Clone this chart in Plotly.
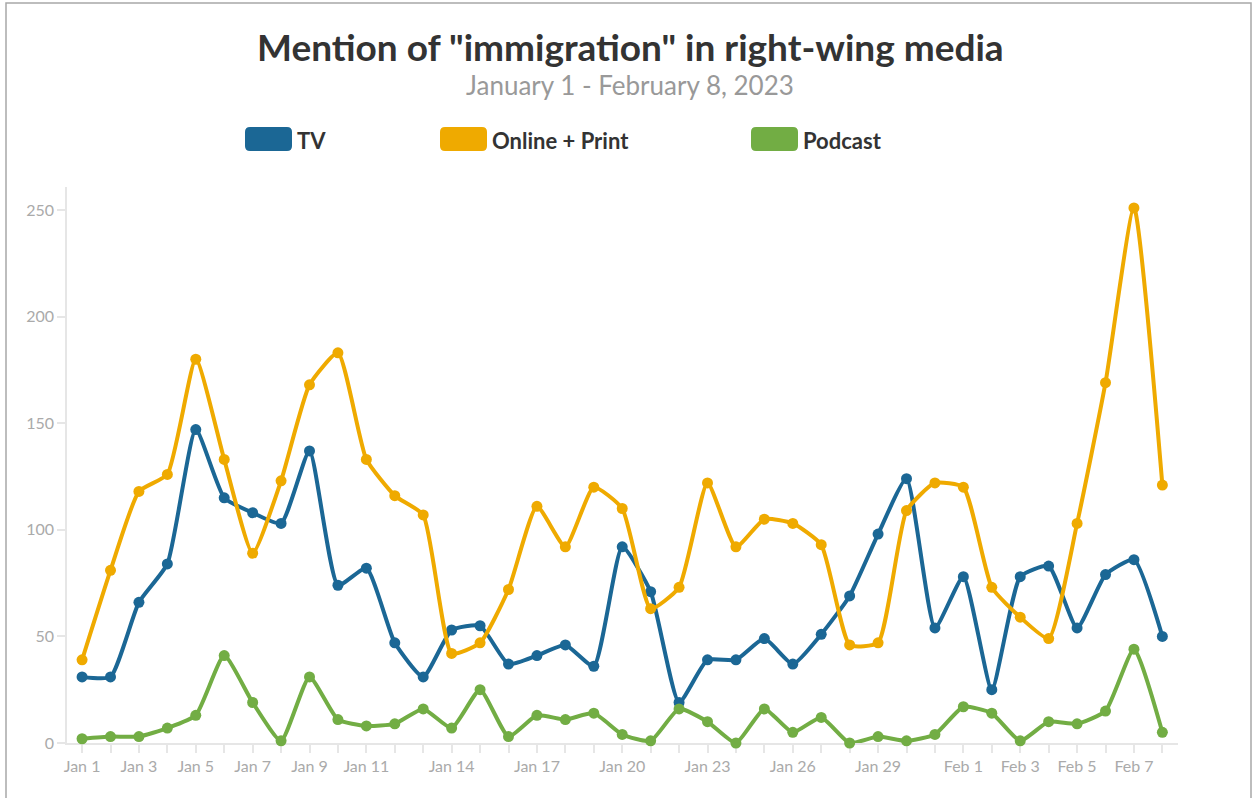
import plotly.graph_objects as go

dates = ["Jan 1", "Jan 2", "Jan 3", "Jan 4", "Jan 5", "Jan 6", "Jan 7", "Jan 8", "Jan 9", "Jan 10",
         "Jan 11", "Jan 12", "Jan 13", "Jan 14", "Jan 15", "Jan 16", "Jan 17", "Jan 18", "Jan 19", "Jan 20",
         "Jan 21", "Jan 22", "Jan 23", "Jan 24", "Jan 25", "Jan 26", "Jan 27", "Jan 28", "Jan 29", "Jan 30",
         "Jan 31", "Feb 1", "Feb 2", "Feb 3", "Feb 4", "Feb 5", "Feb 6", "Feb 7", "Feb 8"]

tv = [31, 31, 66, 84, 147, 115, 108, 103, 137, 74,
      82, 47, 31, 53, 55, 37, 41, 46, 36, 92,
      71, 19, 39, 39, 49, 37, 51, 69, 98, 124,
      54, 78, 25, 78, 83, 54, 79, 86, 50]

online_print = [39, 81, 118, 126, 180, 133, 89, 123, 168, 183,
                133, 116, 107, 42, 47, 72, 111, 92, 120, 110,
                63, 73, 122, 92, 105, 103, 93, 46, 47, 109,
                122, 120, 73, 59, 49, 103, 169, 251, 121]

podcast = [2, 3, 3, 7, 13, 41, 19, 1, 31, 11,
           8, 9, 16, 7, 25, 3, 13, 11, 14, 4,
           1, 16, 10, 0, 16, 5, 12, 0, 3, 1,
           4, 17, 14, 1, 10, 9, 15, 44, 5]

tick_labels = ["Jan 1", "Jan 3", "Jan 5", "Jan 7", "Jan 9", "Jan 11", "Jan 14", "Jan 17", "Jan 20",
               "Jan 23", "Jan 26", "Jan 29", "Feb 1", "Feb 3", "Feb 5", "Feb 7"]

series_names = ["TV", "Online + Print", "Podcast"]
series_colors = ["#1b6795", "#efaa00", "#72ad44"]
series_values = [tv, online_print, podcast]

fig = go.Figure()
for name, color, vals in zip(series_names, series_colors, series_values):
    fig.add_trace(go.Scatter(
        x=dates, y=vals, name=name, mode="lines+markers",
        line=dict(color=color, width=4, shape="spline", smoothing=0.5),
        marker=dict(color=color, size=11),
        cliponaxis=False, showlegend=False,
    ))

W, H = 1253, 798
ml, mr, mt, mb = 67, W - 1178, 187, H - 743
pw, ph = W - ml - mr, H - mt - mb

def px_to_paper_x(px):
    return (px - ml) / pw

def px_to_paper_y(py):
    return 1 - (py - mt) / ph

shapes = []
annotations = []
# legend swatches + labels
legend_x = [245, 440, 751]
for name, color, lx in zip(series_names, series_colors, legend_x):
    w, h, r = 47, 24, 5
    path = (f"M{r},0 L{w-r},0 Q{w},0 {w},{r} L{w},{h-r} Q{w},{h} {w-r},{h} "
            f"L{r},{h} Q0,{h} 0,{h-r} L0,{r} Q0,0 {r},0 Z")
    shapes.append(dict(type="path", xref="paper", yref="paper",
                       xsizemode="pixel", ysizemode="pixel",
                       xanchor=px_to_paper_x(lx), yanchor=px_to_paper_y(151),
                       path=path, fillcolor=color, line=dict(width=0)))
    annotations.append(dict(text=f"<b>{name}</b>", xref="paper", yref="paper",
                            x=px_to_paper_x(lx + 50), y=px_to_paper_y(140),
                            xanchor="left", yanchor="middle", showarrow=False,
                            font=dict(family="Lato", size=22, color="#333333")))

# outer frame
shapes.append(dict(type="rect", xref="paper", yref="paper",
                   x0=px_to_paper_x(6), x1=px_to_paper_x(1251),
                   y0=px_to_paper_y(830), y1=px_to_paper_y(3),
                   line=dict(color="#a8a8a8", width=1.5), fillcolor="rgba(0,0,0,0)", layer="below"))

annotations.append(dict(text="<b>Mention of \"immigration\" in right-wing media</b>",
                        xref="paper", yref="paper", x=px_to_paper_x(630), y=px_to_paper_y(46),
                        xanchor="center", yanchor="middle", showarrow=False,
                        font=dict(family="Lato", size=37, color="#333333")))
annotations.append(dict(text="January 1 - February 8, 2023",
                        xref="paper", yref="paper", x=px_to_paper_x(630), y=px_to_paper_y(85),
                        xanchor="center", yanchor="middle", showarrow=False,
                        font=dict(family="Lato", size=26, color="#999999")))

ticktext = [d if d in tick_labels else "" for d in dates]

fig.update_layout(
    width=W, height=H,
    margin=dict(l=ml, r=mr, t=mt, b=mb),
    paper_bgcolor="white", plot_bgcolor="white",
    shapes=shapes, annotations=annotations,
    font=dict(family="Lato", color="#aaaaaa"),
    xaxis=dict(type="category", range=[-0.53, 38.55], tickvals=dates, ticktext=ticktext,
               showgrid=False, zeroline=False, showline=True, linecolor="#e6e6e6", linewidth=1.5,
               ticks="outside", ticklen=8, tickcolor="#e6e6e6", tickwidth=1.5, layer="below traces",
               tickfont=dict(family="Lato", size=16, color="#aaaaaa"), tickangle=0),
    yaxis=dict(range=[0, 260.8], tickvals=[0, 50, 100, 150, 200, 250],
               showgrid=False, zeroline=False, showline=True, linecolor="#e6e6e6", linewidth=1.5,
               ticks="outside", ticklen=8, tickcolor="#e6e6e6", tickwidth=1.5, layer="below traces",
               tickfont=dict(family="Lato", size=16, color="#aaaaaa")),
)

fig.write_html("out.html", config={"displayModeBar": False},
               post_script="document.body.style.margin='0';")
